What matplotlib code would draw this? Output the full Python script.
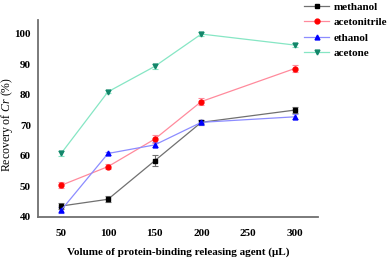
import numpy as np
import matplotlib.pyplot as plt

volume = [50, 100, 150, 200, 300]
methanol = [43.6, 45.8, 58.4, 71.0, 75.0]
acetonitrile = [50.4, 56.5, 65.5, 77.8, 88.6]
ethanol = [42.3, 60.8, 63.6, 71.0, 72.8]
acetone = [60.9, 81.0, 89.3, 99.9, 96.3]
err_methanol = [1.0, 1.0, 1.8, 0.8, 1.0]
err_acetonitrile = [1.0, 0.8, 1.2, 1.0, 1.2]
err_ethanol = [1.0, 0.6, 0.8, 0.8, 0.8]
err_acetone = [0.8, 0.5, 0.7, 0.6, 0.8]

plt.rcParams['font.family'] = 'Liberation Serif'
plt.rcParams['mathtext.fontset'] = 'custom'
plt.rcParams['mathtext.it'] = 'Liberation Serif:italic'
plt.rcParams['mathtext.rm'] = 'Liberation Serif'

fig = plt.figure(figsize=(3.89, 2.59), dpi=100)
ax = fig.add_axes([38/389, 1 - 217/259, 280/389, 197/259])

series = [
    ("methanol", methanol, err_methanol, "s", "black", "#707070"),
    ("acetonitrile", acetonitrile, err_acetonitrile, "o", "red", "#ff8a9c"),
    ("ethanol", ethanol, err_ethanol, "^", "blue", "#8c8cff"),
    ("acetone", acetone, err_acetone, "v", "#13866a", "#86e6c4"),
]
handles = []
for name, y, e, m, mc, lc in series:
    ax.errorbar(volume, y, yerr=e, fmt="none", ecolor=lc, elinewidth=0.8,
                capsize=2, capthick=0.8, zorder=2)
    h, = ax.plot(volume, y, color=lc, lw=0.9, marker=m, ms=3.5,
                 mfc=mc, mec=mc, label=name, zorder=3)
    handles.append(h)

ax.set_xlim(25, 325)
ax.set_ylim(40, 104.5)
ax.set_xticks([50, 100, 150, 200, 250, 300])
ax.set_yticks([40, 50, 60, 70, 80, 90, 100])
ax.tick_params(length=0, labelsize=8)
ax.tick_params(axis="x", pad=9)
ax.tick_params(axis="y", pad=5)
for lab in ax.get_xticklabels() + ax.get_yticklabels():
    lab.set_fontweight("bold")
for s in ["top", "right"]:
    ax.spines[s].set_visible(False)
for s in ["left", "bottom"]:
    ax.spines[s].set_color("#707070")
    ax.spines[s].set_linewidth(1.3)

ax.set_xlabel("Volume of protein-binding releasing agent (\u03bcL)", fontsize=8,
              fontweight="bold")
ax.xaxis.set_label_coords(0.5, -0.155)
ax.set_ylabel(r"Recovery of $\it{Cr}$ (%)", fontsize=8.5)
ax.yaxis.set_label_coords(-0.082, 0.472)

fig.legend(handles=handles, loc="upper left", bbox_to_anchor=(304/389, 0.992),
           frameon=False, prop={"size": 8, "weight": "bold"}, handlelength=2.25,
           labelspacing=0.5, handletextpad=0.4, borderpad=0, borderaxespad=0)

fig.savefig("out.png", dpi=100)
